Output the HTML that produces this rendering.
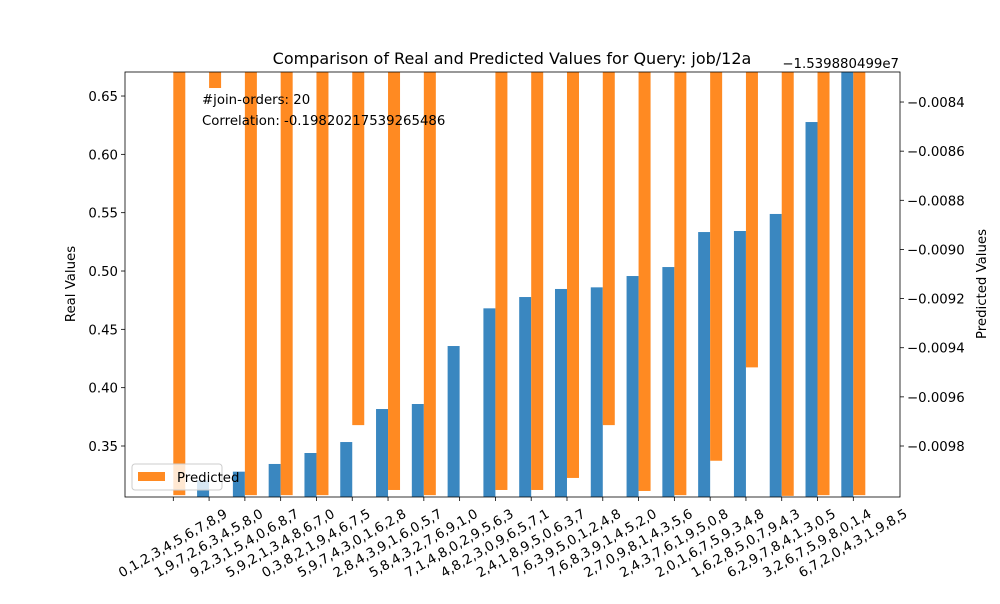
<!DOCTYPE html>
<html><head><meta charset="utf-8"><style>
body{margin:0;background:#fff;font-family:"DejaVu Sans","Liberation Sans",sans-serif}
svg text{font-family:"DejaVu Sans","Liberation Sans",sans-serif}
</style></head><body>
<svg id="chart" width="1000" height="600"></svg>
<script>
const categories=["0,1,2,3,4,5,6,7,8,9","1,9,7,2,6,3,4,5,8,0","9,2,3,1,5,4,0,6,8,7","5,9,2,1,3,4,8,6,7,0","0,3,8,2,1,9,4,6,7,5","5,9,7,4,3,0,1,6,2,8","2,8,4,3,9,1,6,0,5,7","5,8,4,3,2,7,6,9,1,0","7,1,4,8,0,2,9,5,6,3","4,8,2,3,0,9,6,5,7,1","2,4,1,8,9,5,0,6,3,7","7,6,3,9,5,0,1,2,4,8","7,6,8,3,9,1,4,5,2,0","2,7,0,9,8,1,4,3,5,6","2,4,3,7,6,1,9,5,0,8","2,0,1,6,7,5,9,3,4,8","1,6,2,8,5,0,7,9,4,3","6,2,9,7,8,4,1,3,0,5","3,2,6,7,5,9,8,0,1,4","6,7,2,0,4,3,1,9,8,5"];
const realValues=[0.30,0.3205,0.328,0.3346,0.344,0.3534,0.3817,0.386,0.4357,0.468,0.4777,0.4846,0.486,0.4957,0.5034,0.5334,0.5343,0.5489,0.6277,0.68];
const predValues=[-0.010,-0.008343,-0.010,-0.010,-0.010,-0.009715,-0.009979,-0.010,-0.0082,-0.009979,-0.009979,-0.00993,-0.009715,-0.009983,-0.010,-0.00986,-0.00948,-0.010003,-0.010,-0.010];
const leftTicks=[0.35,0.40,0.45,0.50,0.55,0.60,0.65];
const rightTicks=[-0.0098,-0.0096,-0.0094,-0.0092,-0.0090,-0.0088,-0.0086,-0.0084];
const NS="http://www.w3.org/2000/svg",svg=document.getElementById('chart');
const L=125,R=900,T=72,B=497;
const yL=v=>446-(v-0.35)/0.05*58.33;
const yR=v=>446-(v+0.0098)/0.0002*49.14;
const xT=i=>173.3+i*35.79;
const bw=12;
function el(t,a,p){const e=document.createElementNS(NS,t);for(const k in a)e.setAttribute(k,a[k]);(p||svg).appendChild(e);return e;}
const defs=el('defs',{});const cp=el('clipPath',{id:'clip'},defs);el('rect',{x:L,y:T,width:R-L,height:B-T},cp);
const g=el('g',{'clip-path':'url(#clip)'});
categories.forEach((c,i)=>{
 const yb=yL(realValues[i]);
 const b=el('rect',{x:xT(i)-bw,y:yb,width:bw,height:Math.max(0,B-yb),fill:'#3a87c0'},g);
 
 
 const yo=yR(predValues[i]);
 const o=el('rect',{x:xT(i),y:T-5,width:bw,height:Math.max(0,yo-T+5),fill:'#ff8a22'},g);
 
 
 el('line',{x1:xT(i),x2:xT(i),y1:B,y2:B+4,stroke:'#000','stroke-width':0.8});
 const cx=xT(i), cy=B+47;
 const t=el('text',{x:cx,y:cy,'font-size':'13.3','text-anchor':'middle','dominant-baseline':'central',transform:`rotate(-30 ${cx} ${cy})`});
 t.textContent=c;
 
 
});
el('rect',{x:L,y:T,width:R-L,height:B-T,fill:'none',stroke:'#000','stroke-width':0.8});
leftTicks.forEach(v=>{const y=yL(v);el('line',{x1:L-4,x2:L,y1:y,y2:y,stroke:'#000','stroke-width':0.8});
 const t=el('text',{x:L-7,y:y+5,'font-size':'13.3','text-anchor':'end'});t.textContent=v.toFixed(2);
 
 });
rightTicks.forEach(v=>{const y=yR(v);el('line',{x1:R,x2:R+4,y1:y,y2:y,stroke:'#000','stroke-width':0.8});
 const t=el('text',{x:R+7,y:y+5,'font-size':'13.3'});t.textContent='\u2212'+Math.abs(v).toFixed(4);
 
 });
</script>
<svg width="1000" height="600" style="position:absolute;left:0;top:0;pointer-events:none">
<text x="512" y="64" font-size="16" text-anchor="middle">Comparison of Real and Predicted Values for Query: job/12a</text>
<text x="899" y="68" font-size="13.3" text-anchor="end">−1.539880499e7</text>
<text x="75" y="284" font-size="13.3" text-anchor="middle" transform="rotate(-90 75 284)">Real Values</text>
<text x="986" y="284" font-size="13.3" text-anchor="middle" transform="rotate(-90 986 284)">Predicted Values</text>
<text x="202" y="104" font-size="13.3">#join-orders: 20</text>
<text x="202" y="125" font-size="13.3">Correlation: -0.19820217539265486</text>
<g>
<rect x="132" y="464" width="90" height="26" rx="3" fill="#fff" fill-opacity="0.8" stroke="#ccc"/>
<rect x="138" y="472" width="27" height="9" fill="#ff8a22"/>
<text x="177" y="482" font-size="13.3">Predicted</text>
</g>
</svg>
</body></html>
